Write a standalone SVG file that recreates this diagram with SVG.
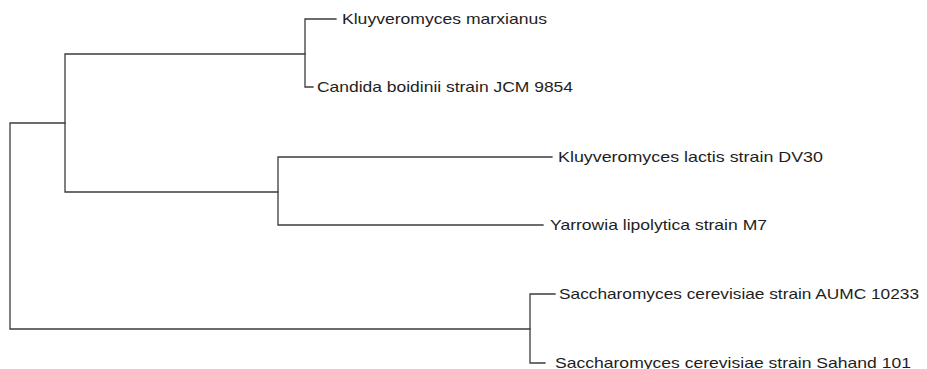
<svg xmlns="http://www.w3.org/2000/svg" width="927" height="369" viewBox="0 0 927 369">
<style>
.e{fill:none;stroke:#3c3c3c;stroke-width:1.3;stroke-linecap:square}
.t{font-family:"Liberation Sans",Arial,sans-serif;font-size:14.5px;fill:#1e1e1e}
</style>
<rect width="927" height="369" fill="#fff"/>
<g id="connectors">
<path class="e" d="M65,123H10V329H530"/>
<path class="e" d="M305,54H65V192H278"/>
<path class="e" d="M336,19H305V87H313"/>
<path class="e" d="M552,157H278V225H543"/>
<path class="e" d="M555,294H530V363H545"/>
</g>
<g id="leaf1"><text class="t" x="342" y="23.5" textLength="205" lengthAdjust="spacingAndGlyphs">Kluyveromyces marxianus</text></g>
<g id="leaf2"><text class="t" x="317" y="92" textLength="256" lengthAdjust="spacingAndGlyphs">Candida boidinii strain JCM 9854</text></g>
<g id="leaf3"><text class="t" x="558" y="161.5" textLength="265" lengthAdjust="spacingAndGlyphs">Kluyveromyces lactis strain DV30</text></g>
<g id="leaf4"><text class="t" x="550" y="229.5" textLength="217" lengthAdjust="spacingAndGlyphs">Yarrowia lipolytica strain M7</text></g>
<g id="leaf5"><text class="t" x="559" y="298.5" textLength="360" lengthAdjust="spacingAndGlyphs">Saccharomyces cerevisiae strain AUMC 10233</text></g>
<g id="leaf6"><text class="t" x="555" y="367.5" textLength="356" lengthAdjust="spacingAndGlyphs">Saccharomyces cerevisiae strain Sahand 101</text></g>
</svg>
